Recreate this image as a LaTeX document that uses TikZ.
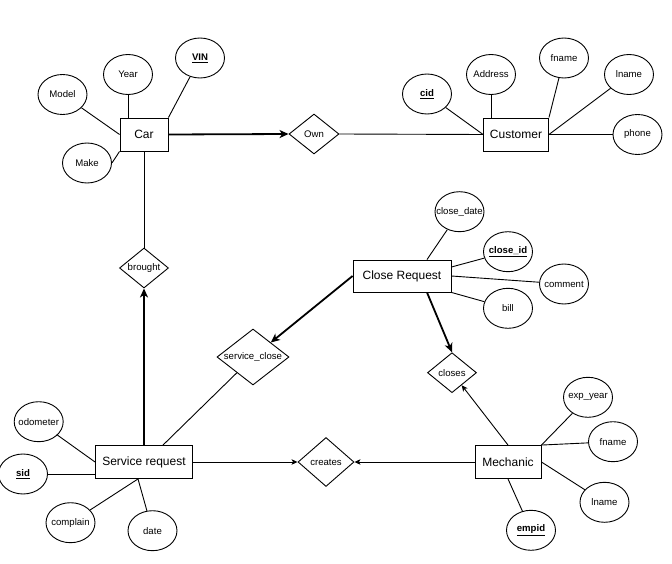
\documentclass[tikz,border=0pt]{standalone}
\usepackage{fontspec}
\setmainfont{Liberation Sans}
\usetikzlibrary{shapes.geometric,arrows.meta}
\tikzset{
  ent/.style={draw, rectangle, inner sep=0pt, line width=0.9pt, font=\fontsize{12}{14}\selectfont},
  attr/.style={draw, ellipse, inner sep=0pt, minimum width=49pt, minimum height=40pt, line width=0.9pt, label={[font=\fontsize{9.6}{11}\selectfont, inner sep=0pt]center:#1}},
  rel/.style={draw, diamond, inner sep=0pt, line width=0.9pt, label={[font=\fontsize{9.6}{11}\selectfont, inner sep=0pt]center:#1}},
  conn/.style={line width=0.9pt},
  thickarrow/.style={line width=1.8pt, -{Stealth[length=9pt,width=8pt,inset=2.5pt]}},
  thinarrow/.style={line width=0.9pt, -{Stealth[length=6pt,width=5.5pt,inset=1.5pt]}}
}
\newcommand{\keytext}[1]{\textbf{\underline{#1}}}
\begin{document}
\begin{tikzpicture}[x=1pt,y=-1pt]
\useasboundingbox (0,0) rectangle (672,564);
% entities
\node[ent, minimum width=48pt, minimum height=33pt] (car) at (144,134.5) {Car};
\node[ent, minimum width=65pt, minimum height=33pt] (cust) at (516,134.5) {Customer};
\node[ent, minimum width=98pt, minimum height=32pt] (cr) at (402,276) {Close Request};
\node[ent, minimum width=97pt, minimum height=33pt] (sr) at (144,462) {Service request};
\node[ent, minimum width=66pt, minimum height=33pt] (mech) at (508,462) {Mechanic};
% relationships
\node[rel=Own, minimum width=50pt, minimum height=40pt] (own) at (314,134) {};
\node[rel=brought, minimum width=49pt, minimum height=40pt] (brought) at (144,268) {};
\node[rel=service\_close, minimum width=72pt, minimum height=56pt] (sc) at (253,357) {};
\node[rel=closes, minimum width=49pt, minimum height=40pt] (closes) at (452,372.7) {};
\node[rel=creates, minimum width=56pt, minimum height=49pt] (creates) at (326,462) {};
% car attributes
\node[attr=Year] (year) at (128,74.5) {};
\node[attr=Model] (model) at (62.5,94.5) {};
\node[attr=\keytext{VIN}] (vin) at (200,58) {};
\node[attr=Make] (make) at (87,163) {};
% customer attributes
\node[attr=\keytext{cid}] (cid) at (427,94) {};
\node[attr=Address] (addr) at (491,74.5) {};
\node[attr=fname] (cfname) at (564,58) {};
\node[attr=lname] (clname) at (629,74.5) {};
\node[attr=phone] (phone) at (637.5,134.5) {};
% close request attributes
\node[attr=close\_date] (cdate) at (459.5,211.7) {};
\node[attr=\keytext{close\_id}] (cid2) at (508,251.7) {};
\node[attr=comment] (comment) at (564,284) {};
\node[attr=bill] (bill) at (508,308.3) {};
% service request attributes
\node[attr=odometer] (odo) at (38.7,421.7) {};
\node[attr=\keytext{sid}] (sid) at (23,474) {};
\node[attr=complain] (comp) at (70.5,522.7) {};
\node[attr=date] (date) at (152.5,530.7) {};
% mechanic attributes
\node[attr=exp\_year] (expy) at (588,397.3) {};
\node[attr=fname] (mfname) at (613,441.7) {};
\node[attr=lname] (mlname) at (604.5,502.3) {};
\node[attr=\keytext{empid}] (empid) at (531,530.3) {};
% car connectors
\draw[conn] (year) -- (year |- car.north);
\draw[conn] (model) -- (car.west);
\draw[conn] (vin) -- (car.north east);
\draw[conn] (make.east) -- (car.south west);
\draw[thickarrow] (car.east) -- (own.west);
\draw[conn] (own.east) -- (cust.west);
\draw[conn] (car.south) -- (brought.north);
% customer connectors
\draw[conn] (cid) -- (cust.west);
\draw[conn] (addr) -- (addr |- cust.north);
\draw[conn] (cfname) -- (cust.north east);
\draw[conn] (clname) -- (cust.east);
\draw[conn] (cust.east) -- (phone);
% close request connectors
\draw[conn] (cdate) -- ([xshift=25pt]cr.north);
\draw[conn] (cid2) -- ([yshift=9pt]cr.east);
\draw[conn] (cr.east) -- (comment);
\draw[conn] (cr.south east) -- (bill);
\draw[thickarrow] (cr.west) -- (sc);
\draw[thickarrow] ([xshift=25pt]cr.south) -- (closes.north);
% service request connectors
\draw[thickarrow] (sr.north) -- (brought.south);
\draw[conn] ([xshift=19pt]sr.north) -- (sc);
\draw[conn] (odo) -- (sr.west);
\draw[conn] (sid.east) -- (sid.east -| sr.west);
\draw[conn] (comp) -- ([xshift=-6pt]sr.south);
\draw[conn] (date) -- ([xshift=-6pt]sr.south);
\draw[thinarrow] (sr.east) -- (creates.west);
% mechanic connectors
\draw[thinarrow] (mech.west) -- (creates.east);
\draw[thinarrow] (mech.north) -- (closes);
\draw[conn] (expy) -- (mech.north east);
\draw[conn] (mfname) -- (mech.north east);
\draw[conn] (mlname) -- (mech.east);
\draw[conn] (empid) -- (mech.south);
\end{tikzpicture}
\end{document}
